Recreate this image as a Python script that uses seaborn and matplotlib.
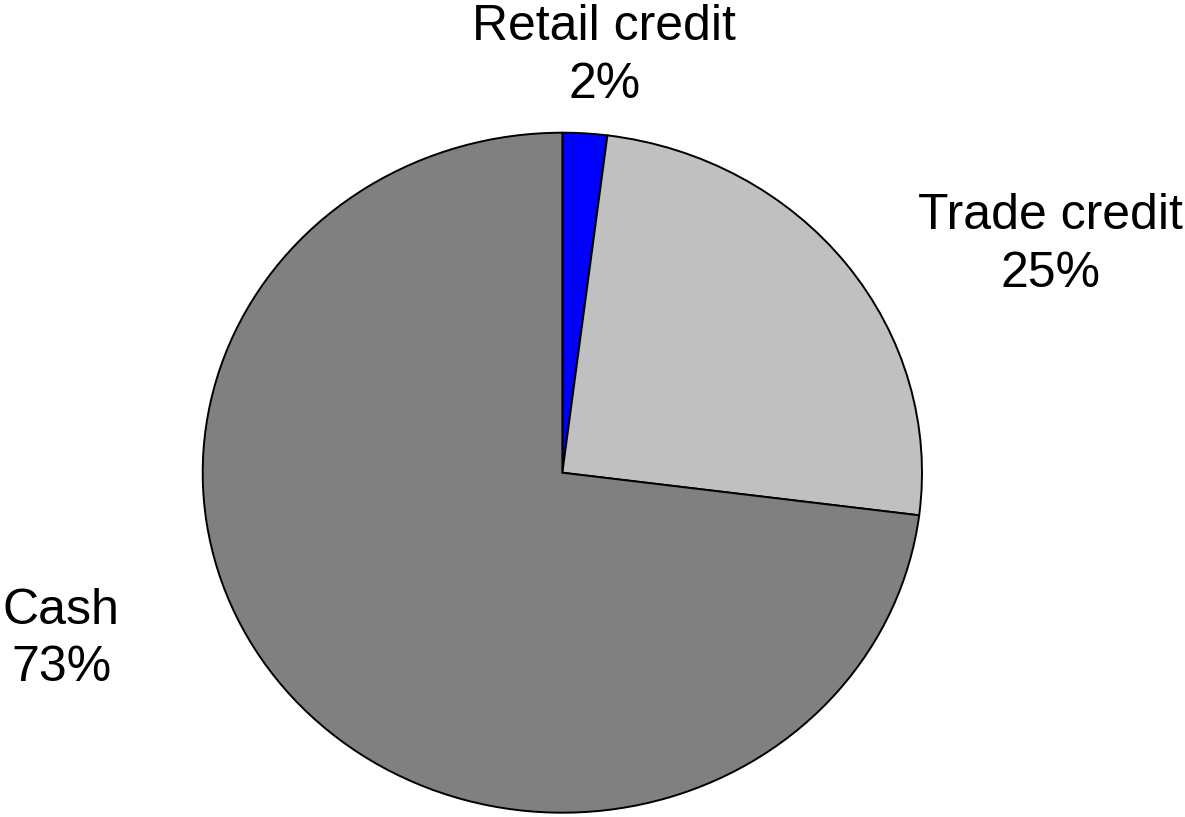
import matplotlib
matplotlib.use("Agg")
import matplotlib.pyplot as plt
import seaborn as sns

# Payment method shares (percent), clockwise from 12 o'clock
categories = ["Retail credit", "Trade credit", "Cash"]
shares = [2, 25, 73]
slice_colors = ["#0000FF", "#C0C0C0", "#808080"]

# Label anchor points in data units (pie radius = 1)
label_x = [0.116, 1.356, -1.394]
label_y = [1.225, 0.670, -0.490]

sns.set_style("white")
plt.rcParams["font.family"] = ["Liberation Sans", "DejaVu Sans"]

W, H = 1185, 817
fig = plt.figure(figsize=(W / 100, H / 100), dpi=100)
fig.patch.set_facecolor("white")

# Axes sized so the pie fills a slightly wide ellipse
left, right, top, bottom = 202.7, 922.0, 132.7, 812.7
ax = fig.add_axes([left / W, (H - bottom) / H, (right - left) / W, (bottom - top) / H])

palette = sns.color_palette(slice_colors)
ax.pie(
    shares,
    colors=palette,
    startangle=90,
    counterclock=False,
    radius=1.0,
    wedgeprops=dict(edgecolor="black", linewidth=1.4),
)
ax.set_aspect("auto")
ax.set_xlim(-1, 1)
ax.set_ylim(-1, 1)
ax.axis("off")

for name, val, x, y in zip(categories, shares, label_x, label_y):
    ax.text(x, y, f"{name}\n{val}%", ha="center", va="center",
            fontsize=36, color="black", linespacing=1.32, clip_on=False)

fig.savefig("out.png", dpi=100, facecolor="white")
